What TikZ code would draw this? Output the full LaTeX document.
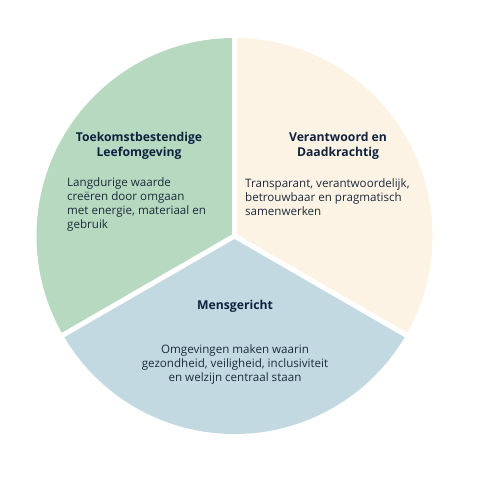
\documentclass[tikz,border=0pt]{standalone}
\usepackage{fontspec}
\setmainfont{Open Sans}
\usetikzlibrary{positioning}
\definecolor{groen}{HTML}{B6D9BF}
\definecolor{beige}{HTML}{FDF3E4}
\definecolor{blauw}{HTML}{C2D9E1}
\definecolor{inkt}{HTML}{1B2B3C}
\definecolor{titelkleur}{HTML}{0E2240}

\begin{document}
\begin{tikzpicture}[x=1pt,y=1pt,
    titel/.style={font=\fontsize{12.2}{15}\selectfont\bfseries, text=titelkleur, align=center, inner sep=0pt},
    tekst/.style={font=\fontsize{11.6}{14}\selectfont, text=inkt, inner sep=0pt}]
    \useasboundingbox (0,0) rectangle (494,477);

    % Pie sectors
    \coordinate (M) at (234.5,241);
    \fill[groen] (M) -- ++(90:198) arc[start angle=90, end angle=210, radius=198] -- cycle;
    \fill[beige] (M) -- ++(-30:198) arc[start angle=-30, end angle=90, radius=198] -- cycle;
    \fill[blauw] (M) -- ++(210:198) arc[start angle=210, end angle=330, radius=198] -- cycle;

    % White gaps between the sectors
    \foreach \hoek in {90,210,330}
        \draw[white, line width=5pt] (M) -- ++(\hoek:202);

    % Toekomstbestendige Leefomgeving
    \node[titel] (groenTitel) at (139,331.5) {Toekomstbestendige\\Leefomgeving};
    \node[tekst, anchor=west, align=left] (groenTekst) at (67,273) {Langdurige waarde\\creëren door omgaan\\met energie, materiaal en\\gebruik};

    % Verantwoord en Daadkrachtig
    \node[titel] (beigeTitel) at (338,331.5) {Verantwoord en\\Daadkrachtig};
    \node[tekst, anchor=west, align=left] (beigeTekst) at (245,280) {Transparant, verantwoordelijk,\\betrouwbaar en pragmatisch\\samenwerken};

    % Mensgericht
    \node[titel] (blauwTitel) at (235,171) {Mensgericht};
    \node[tekst, align=center] (blauwTekst) at (235,113) {Omgevingen maken waarin\\gezondheid, veiligheid, inclusiviteit\\en welzijn centraal staan};
\end{tikzpicture}
\end{document}
